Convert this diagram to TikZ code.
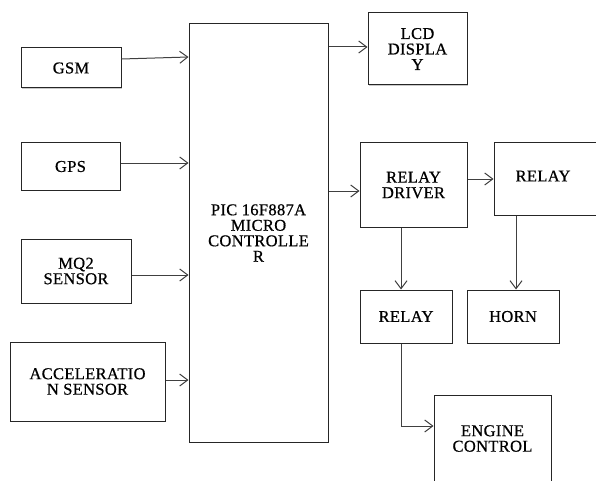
\documentclass[tikz,border=0pt]{standalone}
\usepackage{fontspec}
\setmainfont[LetterSpace=2,FakeBold=0.6]{Liberation Serif}
\usetikzlibrary{arrows.meta,shadows}
\begin{document}
\begin{tikzpicture}[x=1pt,y=-1pt,
  box/.style={draw=black!85, line width=1pt, fill=white, inner sep=0pt,
    align=center, font=\fontsize{16.5}{15.5}\selectfont,
    drop shadow={shadow xshift=1pt, shadow yshift=-1.2pt, fill=black!35, opacity=0.6}},
  arr/.style={draw=black!75, line width=1pt, -{Straight Barb[length=8pt,width=12pt,line width=1pt]}}]
\useasboundingbox[fill=white] (0,0) rectangle (596,481);

\node[box, minimum width=100pt, minimum height=40pt] (gsm) at (71,68) {GSM};
\node[box, minimum width=99pt, minimum height=47pt] (gps) at (70.5,166.5) {GPS};
\node[box, minimum width=110pt, minimum height=64pt] (mq2) at (76,271) {MQ2\\SENSOR};
\node[box, minimum width=155pt, minimum height=79pt] (acc) at (87.5,381.5) {ACCELERATIO\\N SENSOR};
\node[box, minimum width=139pt, minimum height=418pt] (pic) at (258.5,233) {PIC 16F887A\\MICRO\\CONTROLLE\\R};
\node[box, minimum width=99pt, minimum height=72pt] (lcd) at (417.5,49) {LCD\\DISPLA\\Y};
\node[box, minimum width=107pt, minimum height=84pt] (rd) at (413.5,185) {RELAY\\DRIVER};
\node[box, minimum width=126pt, minimum height=72pt,
  label={[xshift=-14pt,yshift=3pt,font=\fontsize{16.5}{15.5}\selectfont]center:RELAY}] (relay1) at (557,179) {};
\node[box, minimum width=92pt, minimum height=53pt] (relay2) at (406,316.5) {RELAY};
\node[box, minimum width=92pt, minimum height=53pt] (horn) at (513,316.5) {HORN};
\node[box, minimum width=117pt, minimum height=87pt] (engine) at (492.5,438.5) {ENGINE\\CONTROL};

\draw[arr] ([yshift=9pt]gsm.east) -- ([yshift=11pt]gsm.east -| pic.west);
\draw[arr] ([yshift=3.5pt]gps.east) -- ([yshift=3.5pt]gps.east -| pic.west);
\draw[arr] ([yshift=-4pt]mq2.east) -- ([yshift=-4pt]mq2.east -| pic.west);
\draw[arr] ([yshift=1.5pt]acc.east) -- ([yshift=1.5pt]acc.east -| pic.west);
\draw[arr] ([yshift=2pt]lcd.west -| pic.east) -- ([yshift=2pt]lcd.west);
\draw[arr] ([yshift=-6pt]rd.west -| pic.east) -- ([yshift=-6pt]rd.west);
\draw[arr] ([yshift=6pt]rd.east) -- ([yshift=6pt]rd.east -| relay1.west);
\draw[arr] ([xshift=-5pt]relay2.north |- rd.south) -- ([xshift=-5pt]relay2.north);
\draw[arr] ([xshift=-41pt]relay1.south) -- ([xshift=-41pt]relay1.south |- horn.north);
\draw[arr] ([xshift=-5pt]relay2.south) |- ([yshift=12.5pt]engine.west);
\end{tikzpicture}
\end{document}
